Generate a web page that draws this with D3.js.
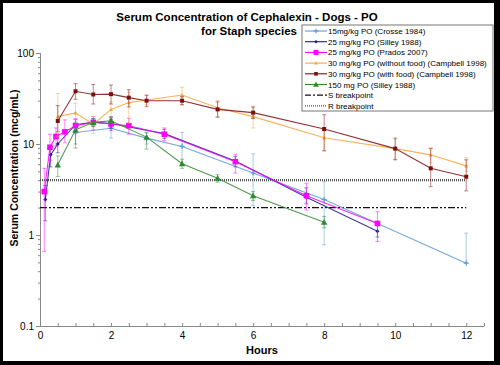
<!DOCTYPE html>
<html><head><meta charset="utf-8">
<script src="https://cdn.jsdelivr.net/npm/d3@7/dist/d3.min.js"></script>
<style>body{margin:0;background:#000;} svg{display:block;font-family:"Liberation Sans",Arial,sans-serif;}</style>
</head><body>
<svg id="c" width="500" height="365"></svg>
<script>
// ---- data ----
const seriesNames = ["15mg/kg PO (Crosse 1984)","25 mg/kg PO (Silley 1988)","25 mg/kg PO (Prados 2007)","30 mg/kg PO (without food) (Campbell 1998)","30 mg/kg PO (with food) (Campbell 1998)","150 mg PO (Silley 1988)"];
const crosseT  = [1,2,3,4,6,8,12];
const crosseV  = [13.4,14.9,11.6,9.4,4.8,2.45,0.49];
const crosseHi = [17.5,19.3,13.5,13.4,7.8,3.85,1.05];
const crosseLo = [9.0,11.6,10.0,5.8,2.1,0.78,0];

const silley25T  = [0.15,0.3,0.5,1,1.5,2,3.5,5.5,7.5,9.5];
const silley25V  = [2.45,7.6,10,16.3,17.4,16.8,13,6.5,2.6,1.1];
const silley25Hi = [3.5,9.4,12.8,18.5,19,18.5,14.5,7.3,3.3,1.3];
const silley25Lo = [1.43,5.6,8,14,15.8,15,11.5,5.6,2.2,0.95];

const pradosT  = [0.12,0.28,0.45,0.7,1,1.5,2,2.5,3.5,5.5,7.5,9.5];
const pradosV  = [3.0,9.2,12.1,13.6,15.9,17.3,16.6,15.9,12.8,6.4,2.7,1.34];
const pradosHi = [5.4,12.8,15,18.4,19,20,19.5,19.2,15,7.7,3.7,1.8];
const pradosLo = [0.66,6.6,9.5,10.3,13,14.3,14,12.8,10.9,4.8,1.88,0.85];

const campNoFoodT  = [0.5,1,1.5,2,2.5,3,4,5,6,8,10,11,12];
const campNoFoodV  = [20,22,16.5,24,28.5,30.5,34.5,25,20,11.7,8.9,7.6,5.75];
const campNoFoodHi = [36,28,20,29,37,34,42,30,26,15,11.3,9.1,7.1];
const campNoFoodLo = [12,9.1,13,20,17,27,27,20,15,8.5,6.8,6.2,5.0];

const campFoodT  = [0.5,1,1.5,2,2.5,3,4,5,6,8,10,11,12];
const campFoodV  = [17.9,38,35,35.3,32.3,29.9,29.9,24,22.1,14.6,8.9,5.4,4.37];
const campFoodHi = [26.4,46,45,44.5,39.5,34.5,33,29,25.5,21,11.6,8.9,6.7];
const campFoodLo = [13.6,31,27.5,27.5,25.5,25.7,27,19.7,19,8.4,6.7,3.4,3.05];

const silley150T  = [0.5,1,1.5,2,3,4,5,6,8];
const silley150V  = [5.9,14.3,17.3,18,11.9,6.06,4.2,2.7,1.38];
const silley150Hi = [7.4,17,19,20,13.3,6.8,4.6,3.0,1.6];
const silley150Lo = [4.4,10,15.5,16,8.8,5.4,3.8,2.4,1.2];

const sBreakpoint = 2, rBreakpoint = 4;
const breakT = [0,12];
const yTickLabels = ["0.1","1","10","100"];
const xTickLabels = ["0","2","4","6","8","10","12"];

// ---- styles ----
const colors = ["#5b9bd5","#1c1c8c","#ff00ff","#f7a540","#7f0f0f","#2e8b2e"];
const markers = ["plus","diamond","square","triangle","square","triangle"];
const msize = [2.6,2,2.8,2,2,3.2];

const svg = d3.select("#c");
svg.append("rect").attr("x",3).attr("y",3).attr("width",491).attr("height",358).attr("fill","#fff");

const x = d3.scaleLinear().domain([0,12.5]).range([40,484]);
const y = d3.scaleLog().domain([0.1,100]).range([326,53]);

const series = [
  [crosseT,crosseV,crosseHi,crosseLo],
  [silley25T,silley25V,silley25Hi,silley25Lo],
  [pradosT,pradosV,pradosHi,pradosLo],
  [campNoFoodT,campNoFoodV,campNoFoodHi,campNoFoodLo],
  [campFoodT,campFoodV,campFoodHi,campFoodLo],
  [silley150T,silley150V,silley150Hi,silley150Lo]
];

// axes
const gy = svg.append("g").attr("transform","translate(40,0)");
const minor = [];
for (let d=0.1; d<100; d*=10) for (let k=2;k<=9;k++) minor.push(d*k);
gy.call(d3.axisLeft(y).tickValues(minor).tickSize(2).tickFormat(""));
const gy2 = svg.append("g").attr("transform","translate(40,0)");
gy2.call(d3.axisLeft(y).tickValues(yTickLabels.map(Number)).tickSize(4).tickFormat((d,i)=>yTickLabels[i]));
[gy,gy2].forEach(g=>{g.select(".domain").attr("stroke","#888"); g.selectAll(".tick line").attr("stroke","#888");});
gy2.selectAll(".tick text").attr("font-size",10).attr("font-family","Liberation Sans, Arial").attr("fill","#000").attr("x",-6);

const gx = svg.append("g").attr("transform","translate(0,326)");
gx.call(d3.axisBottom(x).tickValues(d3.range(0,12.51,0.5)).tickSizeInner(-3).tickSizeOuter(0)
   .tickFormat(d=> (d%2===0) ? xTickLabels[d/2] : ""));
gx.select(".domain").attr("stroke","#888");
gx.selectAll(".tick line").attr("stroke","#888");
gx.selectAll(".tick text").attr("font-size",10).attr("font-family","Liberation Sans, Arial").attr("fill","#000").attr("y",6);

// breakpoints
const bl = d3.line().x(d=>x(d[0])).y(d=>y(d[1]));
svg.append("path").attr("d",bl(breakT.map(t=>[t,rBreakpoint]))).attr("stroke","#555").attr("stroke-width",2.2).attr("stroke-dasharray","1,1").attr("fill","none");
svg.append("path").attr("d",bl(breakT.map(t=>[t,sBreakpoint]))).attr("stroke","#111").attr("stroke-width",1.3).attr("stroke-dasharray","7,2,2,2,2,2").attr("fill","none");

function drawMarker(g,type,cx,cy,s,col){
  if(type==="plus"){
    g.append("path").attr("d",`M${cx-s},${cy}H${cx+s}M${cx},${cy-s}V${cy+s}`).attr("stroke",col).attr("stroke-width",1.2);
  } else if(type==="square"){
    g.append("rect").attr("x",cx-s).attr("y",cy-s).attr("width",2*s).attr("height",2*s).attr("fill",col);
  } else if(type==="diamond"){
    g.append("path").attr("d",`M${cx},${cy-s}L${cx+s},${cy}L${cx},${cy+s}L${cx-s},${cy}Z`).attr("fill",col);
  } else {
    g.append("path").attr("d",`M${cx},${cy-s}L${cx+s},${cy+s*0.8}L${cx-s},${cy+s*0.8}Z`).attr("fill",col);
  }
}

const line = d3.line().x(d=>x(d[0])).y(d=>y(d[1]));
series.forEach((s,i)=>{
  const [T,V,H,L] = s;
  const g = svg.append("g");
  const col = colors[i];
  T.forEach((t,j)=>{
    const cx = x(t);
    const top = y(H[j]);
    const bot = L[j] > 0 ? y(L[j]) : y(V[j]);
    g.append("line").attr("x1",cx).attr("x2",cx).attr("y1",top).attr("y2",bot).attr("stroke",col).attr("stroke-opacity",0.5).attr("stroke-width",1);
    g.append("line").attr("x1",cx-2).attr("x2",cx+2).attr("y1",top).attr("y2",top).attr("stroke",col).attr("stroke-opacity",0.5);
    if (L[j] > 0) g.append("line").attr("x1",cx-2).attr("x2",cx+2).attr("y1",bot).attr("y2",bot).attr("stroke",col).attr("stroke-opacity",0.5);
  });
  g.append("path").attr("d",line(T.map((t,j)=>[t,V[j]]))).attr("fill","none").attr("stroke",col).attr("stroke-width",1.1).attr("stroke-opacity",0.85);
  T.forEach((t,j)=>drawMarker(g,markers[i],x(t),y(V[j]),msize[i],col));
});

// title
svg.append("text").attr("x",247).attr("y",21).attr("text-anchor","middle").attr("font-size",11.5).attr("font-weight","bold").text("Serum Concentration of Cephalexin - Dogs - PO");
svg.append("text").attr("x",249).attr("y",35).attr("text-anchor","middle").attr("font-size",11.5).attr("font-weight","bold").text("for Staph species");

// axis titles
svg.append("text").attr("transform","translate(18,168) rotate(-90)").attr("text-anchor","middle").attr("font-size",10.5).attr("font-weight","bold").text("Serum Concentration (mcg/mL)");
svg.append("text").attr("x",262).attr("y",354).attr("text-anchor","middle").attr("font-size",11).attr("font-weight","bold").text("Hours");

// legend
const lg = svg.append("g");
lg.append("rect").attr("x",302).attr("y",25).attr("width",191).attr("height",86).attr("fill","#fff").attr("stroke","#777").attr("stroke-width",1);
const legendNames = seriesNames.concat(["S breakpoint","R breakpoint"]);
legendNames.forEach((n,i)=>{
  const ly = 31 + i*10.7;
  if(i<6){
    lg.append("line").attr("x1",305).attr("x2",327).attr("y1",ly).attr("y2",ly).attr("stroke",colors[i]).attr("stroke-width",1.1);
    drawMarker(lg,markers[i],316,ly,msize[i]*0.9,colors[i]);
  } else if(i===6){
    lg.append("line").attr("x1",305).attr("x2",327).attr("y1",ly).attr("y2",ly).attr("stroke","#111").attr("stroke-width",1.3).attr("stroke-dasharray","6,2,2,2");
  } else {
    lg.append("line").attr("x1",305).attr("x2",327).attr("y1",ly).attr("y2",ly).attr("stroke","#555").attr("stroke-width",1.2).attr("stroke-dasharray","1,1");
  }
  lg.append("text").attr("x",328).attr("y",ly+3).attr("font-size",8).attr("fill","#000").text(n);
});
</script>
</body></html>
